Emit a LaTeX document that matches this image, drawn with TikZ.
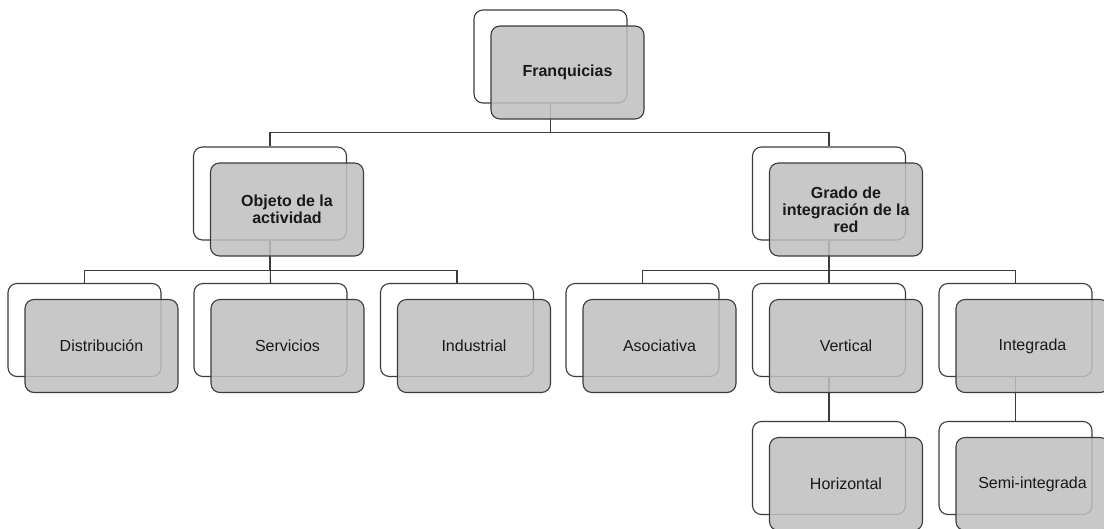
\documentclass[tikz,border=0pt]{standalone}
\usepackage{fontspec}
\setmainfont{Liberation Sans}
\definecolor{boxline}{RGB}{60,60,60}
\definecolor{boxgray}{RGB}{192,192,192}
\definecolor{txt}{RGB}{25,25,25}
\begin{document}
\begin{tikzpicture}[x=1pt,y=-1pt,
  back/.style={draw=boxline, line width=1.1pt, rounded corners=9pt, fill=white,
    minimum width=153pt, minimum height=93pt, inner sep=0pt},
  front/.style={draw=boxline, line width=1.1pt, rounded corners=9pt, fill=boxgray, fill opacity=0.86, text opacity=1,
    minimum width=153pt, minimum height=93pt, inner sep=0pt, text=txt, align=center,
    font=\fontsize{16}{17}\selectfont},
  bold/.style={font=\bfseries\fontsize{16}{17}\selectfont},
  conn/.style={draw=boxline, line width=1.1pt}]
\clip (0,0) rectangle (1104,528);
\fill[white] (0,0) rectangle (1104,528);
% back boxes
\node[back] (fW) at (550.5,56.5) {};
\node[back] (oW) at (270,193.5) {};
\node[back] (gW) at (829,193.5) {};
\node[back] (dW) at (84.5,330) {};
\node[back] (sW) at (270.5,330) {};
\node[back] (iW) at (457,330) {};
\node[back] (aW) at (642.5,330) {};
\node[back] (vW) at (829,330) {};
\node[back] (tW) at (1015.5,330) {};
\node[back] (hW) at (829,468) {};
\node[back] (mW) at (1015.5,468) {};
% connectors
\draw[conn] (fW.south) -- ++(0,29) -| (oW.north);
\draw[conn] (fW.south) -- ++(0,29) -| (gW.north);
\draw[conn] (oW.south) -- ++(0,30) -| (dW.north);
\draw[conn] (oW.south) -- (sW.north);
\draw[conn] (oW.south) -- ++(0,30) -| (iW.north);
\draw[conn] (gW.south) -- ++(0,30) -| (aW.north);
\draw[conn] (gW.south) -- (vW.north);
\draw[conn] (gW.south) -- ++(0,30) -| (tW.north);
\draw[conn] (vW.south) -- (hW.north);
\draw[conn] (tW.south) -- (mW.north);
% front boxes
\node[front, bold] (f) at (567.5,72.5) {Franquicias};
\node[front, bold] (o) at (287,209.5) {Objeto de la\\actividad};
\node[front, bold] (g) at (846,209.5) {Grado de\\integración de la\\red};
\node[front] (d) at (101.5,346) {Distribución};
\node[front] (s) at (287.5,346) {Servicios};
\node[front] (i) at (474,346) {Industrial};
\node[front] (a) at (659.5,346) {Asociativa};
\node[front] (v) at (846,346) {Vertical};
\node[front] (t) at (1032.5,346) {Integrada};
\node[front] (h) at (846,484) {Horizontal};
\node[front] (m) at (1032.5,484) {Semi-integrada};
\end{tikzpicture}
\end{document}
